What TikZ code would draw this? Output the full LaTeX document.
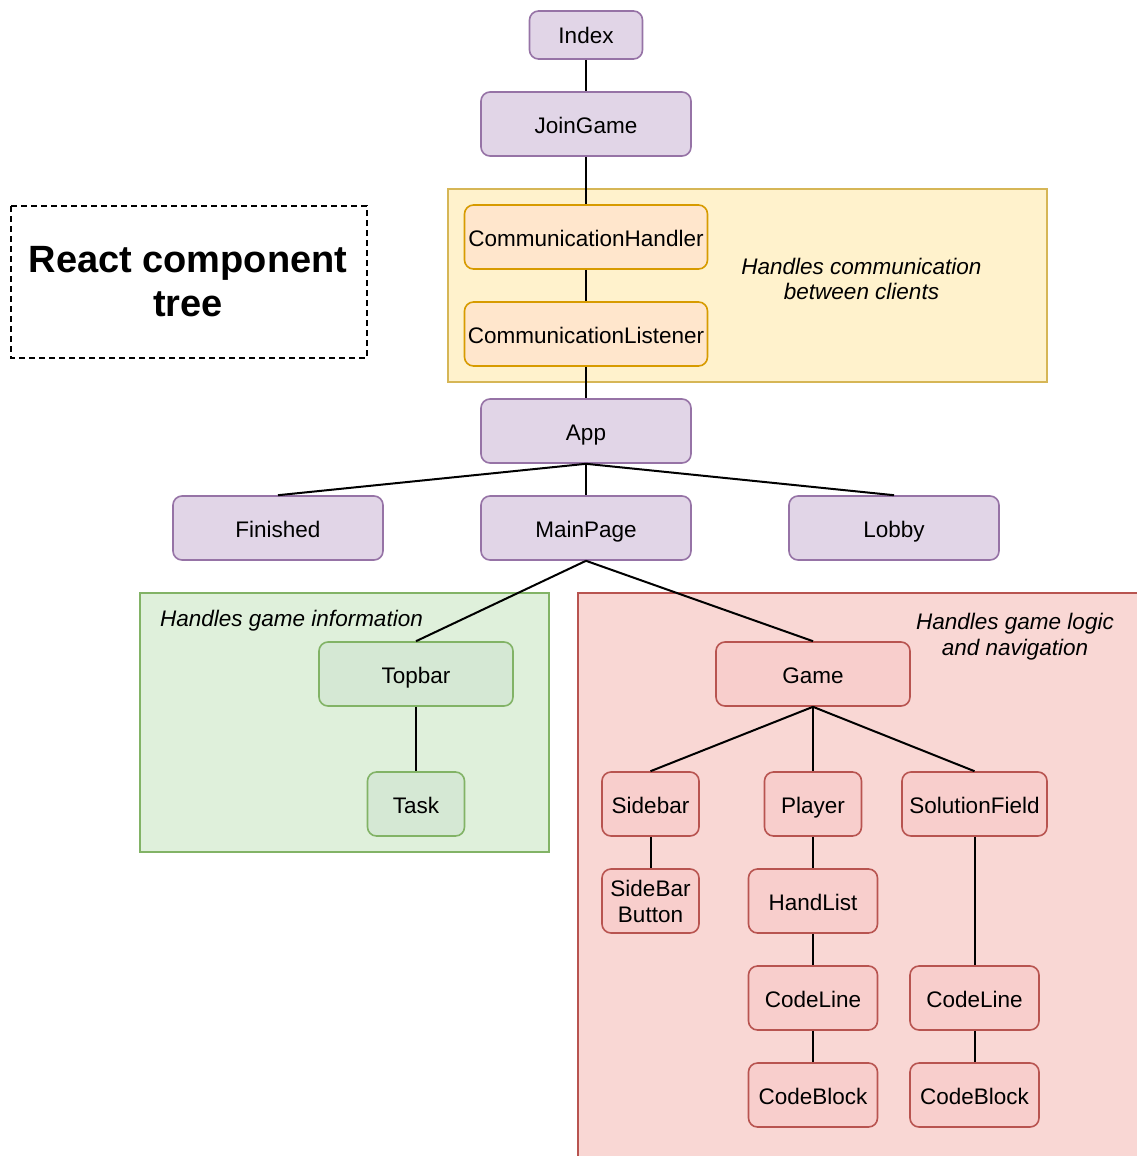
\documentclass[tikz,border=0pt]{standalone}
\usepackage{fontspec}
\setmainfont{Liberation Sans}
\definecolor{purpleF}{HTML}{E1D5E7}
\definecolor{purpleD}{HTML}{9673A6}
\definecolor{orangeF}{HTML}{FFE6CC}
\definecolor{orangeD}{HTML}{D79B00}
\definecolor{yellowF}{HTML}{FFF2CC}
\definecolor{yellowD}{HTML}{D6B656}
\definecolor{greenF}{HTML}{D5E8D4}
\definecolor{greenD}{HTML}{82B366}
\definecolor{greenG}{HTML}{DFF0DB}
\definecolor{redF}{HTML}{F8CECC}
\definecolor{redD}{HTML}{B85450}
\definecolor{redG}{HTML}{F9D7D4}
\begin{document}
\begin{tikzpicture}[x=1pt,y=-1pt,
  comp/.style={draw, rounded corners=9pt, line width=1.6pt, inner sep=0pt,
    minimum height=64pt, text height=20pt, text depth=2pt,
    font=\fontsize{22.5}{26}\selectfont, align=center},
  purplebox/.style={comp, fill=purpleF, draw=purpleD},
  orangebox/.style={comp, fill=orangeF, draw=orangeD},
  greenbox/.style={comp, fill=greenF, draw=greenD},
  redbox/.style={comp, fill=redF, draw=redD},
  group/.style={line width=1.6pt},
  note/.style={font=\fontsize{22.5}{25.5}\selectfont\itshape, inner sep=0pt, align=center},
  link/.style={line width=2pt, draw=black}
]
\useasboundingbox (0,0) rectangle (1137,1156);

% group backgrounds
\draw[group, fill=yellowF, draw=yellowD] (448,189) rectangle (1047,382);
\draw[group, fill=greenG, draw=greenD] (140,593) rectangle (549,852);
\draw[group, fill=redG, draw=redD] (578,593) rectangle (1150,1170);

% title (anchor base = baseline of the last line)
\draw[line width=1.6pt, dash pattern=on 6pt off 4pt] (11,206) rectangle (367,358);
\node[font=\fontsize{38}{43.5}\selectfont\bfseries, align=center, inner sep=0pt, anchor=base]
  (title) at (188,316) {React component\\tree};

% group notes
\node[note, anchor=base] (commnote) at (861.5,299.5) {Handles communication\\between clients};
\node[note, anchor=base west] (infonote) at (160,626) {Handles game information};
\node[note, anchor=base] (logicnote) at (1015,655) {Handles game logic\\and navigation};

% components
\node[purplebox, minimum width=113pt, minimum height=48pt] (index) at (586,35) {Index};
\node[purplebox, minimum width=210pt] (join) at (586,124) {JoinGame};
\node[orangebox, minimum width=243pt] (handler) at (586,237) {CommunicationHandler};
\node[orangebox, minimum width=243pt] (listener) at (586,334) {CommunicationListener};
\node[purplebox, minimum width=210pt] (app) at (586,431) {App};
\node[purplebox, minimum width=210pt] (finished) at (278,528) {Finished};
\node[purplebox, minimum width=210pt] (mainpage) at (586,528) {MainPage};
\node[purplebox, minimum width=210pt] (lobby) at (894,528) {Lobby};

\node[greenbox, minimum width=194pt] (topbar) at (416,674) {Topbar};
\node[greenbox, minimum width=97pt] (task) at (416,804) {Task};

\node[redbox, minimum width=194pt] (game) at (813,674) {Game};
\node[redbox, minimum width=97pt] (sidebar) at (650.5,804) {Sidebar};
\node[redbox, minimum width=97pt] (player) at (813,804) {Player};
\node[redbox, minimum width=145pt] (solution) at (974.5,804) {SolutionField};
\node[redbox, minimum width=97pt, text height={}, text depth={}] (sidebtn) at (650.5,901) {SideBar\\Button};
\node[redbox, minimum width=129pt] (handlist) at (813,901) {HandList};
\node[redbox, minimum width=129pt] (codeline) at (813,998) {CodeLine};
\node[redbox, minimum width=129pt] (codeblock) at (813,1095) {CodeBlock};
\node[redbox, minimum width=129pt] (codeline2) at (974.5,998) {CodeLine};
\node[redbox, minimum width=129pt] (codeblock2) at (974.5,1095) {CodeBlock};

% tree links
\draw[link] (index.south) -- (join.north);
\draw[link] (join.south) -- (handler.north);
\draw[link] (handler.south) -- (listener.north);
\draw[link] (listener.south) -- (app.north);
\draw[link] (app.south) -- (finished.north);
\draw[link] (app.south) -- (mainpage.north);
\draw[link] (app.south) -- (lobby.north);
\draw[link] (mainpage.south) -- (topbar.north);
\draw[link] (mainpage.south) -- (game.north);
\draw[link] (topbar.south) -- (task.north);
\draw[link] (game.south) -- (sidebar.north);
\draw[link] (game.south) -- (player.north);
\draw[link] (game.south) -- (solution.north);
\draw[link] (sidebar.south) -- (sidebtn.north);
\draw[link] (player.south) -- (handlist.north);
\draw[link] (handlist.south) -- (codeline.north);
\draw[link] (codeline.south) -- (codeblock.north);
\draw[link] (solution.south) -- (codeline2.north);
\draw[link] (codeline2.south) -- (codeblock2.north);
\end{tikzpicture}
\end{document}
